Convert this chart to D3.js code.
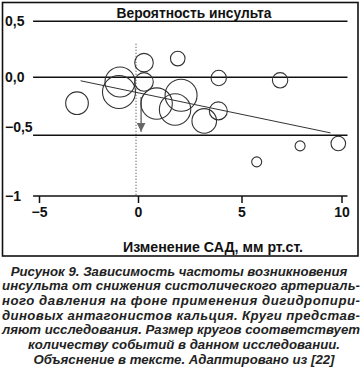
<!DOCTYPE html>
<html><head><meta charset="utf-8">
<script src="https://cdn.jsdelivr.net/npm/d3@7/dist/d3.min.js"></script>
<style>
html,body{margin:0;padding:0;background:#fff;}
svg{display:block;}
</style></head>
<body>
<svg id="c" width="364" height="370"></svg>
<script>
// ---- data ----
const studyX = [-3.08, -0.91, -0.96, 0.29, 0.29, 1.92, 0.9, 2.08, 1.79, 3.2, 3.88, 3.9, 6.93, 7.93, 9.84, 5.76];
const studyY = [-0.224, -0.04, -0.127, 0.131, -0.04, 0.167, -0.227, -0.155, -0.278, -0.377, -0.29, -0.006, -0.026, -0.588, -0.568, -0.719];
const studyEvents = [128, 225, 272, 86, 86, 53, 246, 256, 246, 151, 81, 59, 59, 25, 53, 25];
const trendX = [-2.9, 9.45];
const trendY = [-0.03, -0.48];
const xTicks = [-5, 0, 5, 10];
const xTickLabels = ["\u22125", "0", "5", "10"];
const yTicks = [0.5, 0, -0.5, -1];
const yTickLabels = ["0,5", "0,0", "\u22120,5", "\u22121"];
const arrowX = [0.15, 0.15];
const arrowY = [-0.17, -0.47];
const dottedX = [-0.1, -0.1];
const dottedY = [0.3, -1];
const chartTitle = "Вероятность инсульта";
const xTitle = "Изменение САД, мм рт.ст.";
const captionLines = [
  "Рисунок 9. Зависимость частоты возникновения",
  "инсульта от снижения систолического артериаль-",
  "ного давления на фоне применения дигидропири-",
  "диновых антагонистов кальция. Круги представ-",
  "ляют исследования. Размер кругов соответствует",
  "количеству событий в данном исследовании.",
  "Объяснение в тексте. Адаптировано из [22]"
];
const captionJustified = [false, true, true, true, true, false, false];

// ---- scales ----
const x = d3.scaleLinear().domain([-5, 0, 5, 10]).range([39, 138, 241.5, 341.5]);
const y = d3.scaleLinear().domain([0.5, 0, -0.5, -1]).range([21.3, 77.3, 135.2, 196]);
const r = d3.scaleSqrt().domain([0, 272]).range([0, 16.5]);

const svg = d3.select("#c");
const FONT = "'Liberation Sans', Arial, Helvetica, sans-serif";

// frame
svg.append("rect").attr("x", 2.5).attr("y", 2.5).attr("width", 355.5).attr("height", 253.5)
  .attr("fill", "none").attr("stroke", "#111").attr("stroke-width", 1.6);

// title
svg.append("text").attr("x", 194).attr("y", 18.3).attr("text-anchor", "middle")
  .attr("font-family", FONT).attr("font-weight", "bold").attr("font-size", 13.8)
  .attr("fill", "#111").text(chartTitle);

// horizontal reference lines at y ticks
const gx0 = x(-5.3), gx1 = x(10.3);
svg.append("g").selectAll("line").data(yTicks).join("line")
  .attr("x1", gx0).attr("x2", gx1)
  .attr("y1", d => y(d)).attr("y2", d => y(d))
  .attr("stroke", "#111").attr("stroke-width", 1.4);

// y labels
svg.append("g").selectAll("text").data(yTicks).join("text")
  .attr("x", 5).attr("y", (d, i) => y(d) + (d === -0.5 ? -8 : 0))
  .attr("dy", "0.36em")
  .attr("font-family", FONT).attr("font-weight", "bold").attr("font-size", 14)
  .attr("fill", "#111").text((d, i) => yTickLabels[i]);

// x axis ticks (below the -1 line)
const xAxis = d3.axisBottom(x).tickValues(xTicks).tickSize(7).tickPadding(4)
  .tickFormat((d, i) => xTickLabels[i]);
const gAx = svg.append("g").attr("transform", `translate(0,${y(-1)})`).call(xAxis);
gAx.select(".domain").remove();
gAx.selectAll(".tick line").attr("stroke", "#111").attr("stroke-width", 1.5);
gAx.selectAll(".tick text").attr("font-family", FONT).attr("font-weight", "bold")
  .attr("font-size", 14).attr("fill", "#111");

// x title
svg.append("text").attr("x", 213).attr("y", 251.5).attr("text-anchor", "middle")
  .attr("font-family", FONT).attr("font-weight", "bold").attr("font-size", 14.2)
  .attr("fill", "#111").text(xTitle);

// dotted vertical line
svg.append("line").attr("x1", x(dottedX[0])).attr("x2", x(dottedX[1]))
  .attr("y1", y(dottedY[0])).attr("y2", y(dottedY[1]))
  .attr("stroke", "#555").attr("stroke-width", 1.2).attr("stroke-dasharray", "1,2");

// arrow
svg.append("defs").append("marker").attr("id", "ah").attr("viewBox", "0 0 10 10")
  .attr("refX", 10).attr("refY", 5).attr("markerWidth", 9).attr("markerHeight", 9)
  .attr("markerUnits", "userSpaceOnUse").attr("orient", "auto")
  .append("path").attr("d", "M0,0 L10,5 L0,10 z").attr("fill", "#666");
svg.append("line").attr("x1", x(arrowX[0])).attr("x2", x(arrowX[1]))
  .attr("y1", y(arrowY[0])).attr("y2", y(arrowY[1]))
  .attr("stroke", "#666").attr("stroke-width", 1.4).attr("marker-end", "url(#ah)");

// circles
const studies = studyX.map((d, i) => ({x: d, y: studyY[i], e: studyEvents[i]}));
svg.append("g").selectAll("circle").data(studies).join("circle")
  .attr("cx", d => x(d.x)).attr("cy", d => y(d.y)).attr("r", d => r(d.e))
  .attr("fill", "none").attr("stroke", "#333").attr("stroke-width", 1.1);

// trend line
svg.append("line").attr("x1", x(trendX[0])).attr("x2", x(trendX[1]))
  .attr("y1", y(trendY[0])).attr("y2", y(trendY[1]))
  .attr("stroke", "#333").attr("stroke-width", 1);

// caption
const capG = svg.append("g");
captionLines.forEach((t, i) => {
  const el = capG.append("text").attr("y", 275.5 + i * 14.7)
    .attr("font-family", FONT).attr("font-weight", "bold").attr("font-style", "italic")
    .attr("font-size", 13.2).attr("fill", "#222").text(t);
  if (captionJustified[i]) {
    el.attr("x", 2).attr("textLength", 358).attr("lengthAdjust", "spacing");
  } else {
    el.attr("x", i === 0 ? 179 : 184).attr("text-anchor", "middle");
  }
});
</script>
</body></html>
